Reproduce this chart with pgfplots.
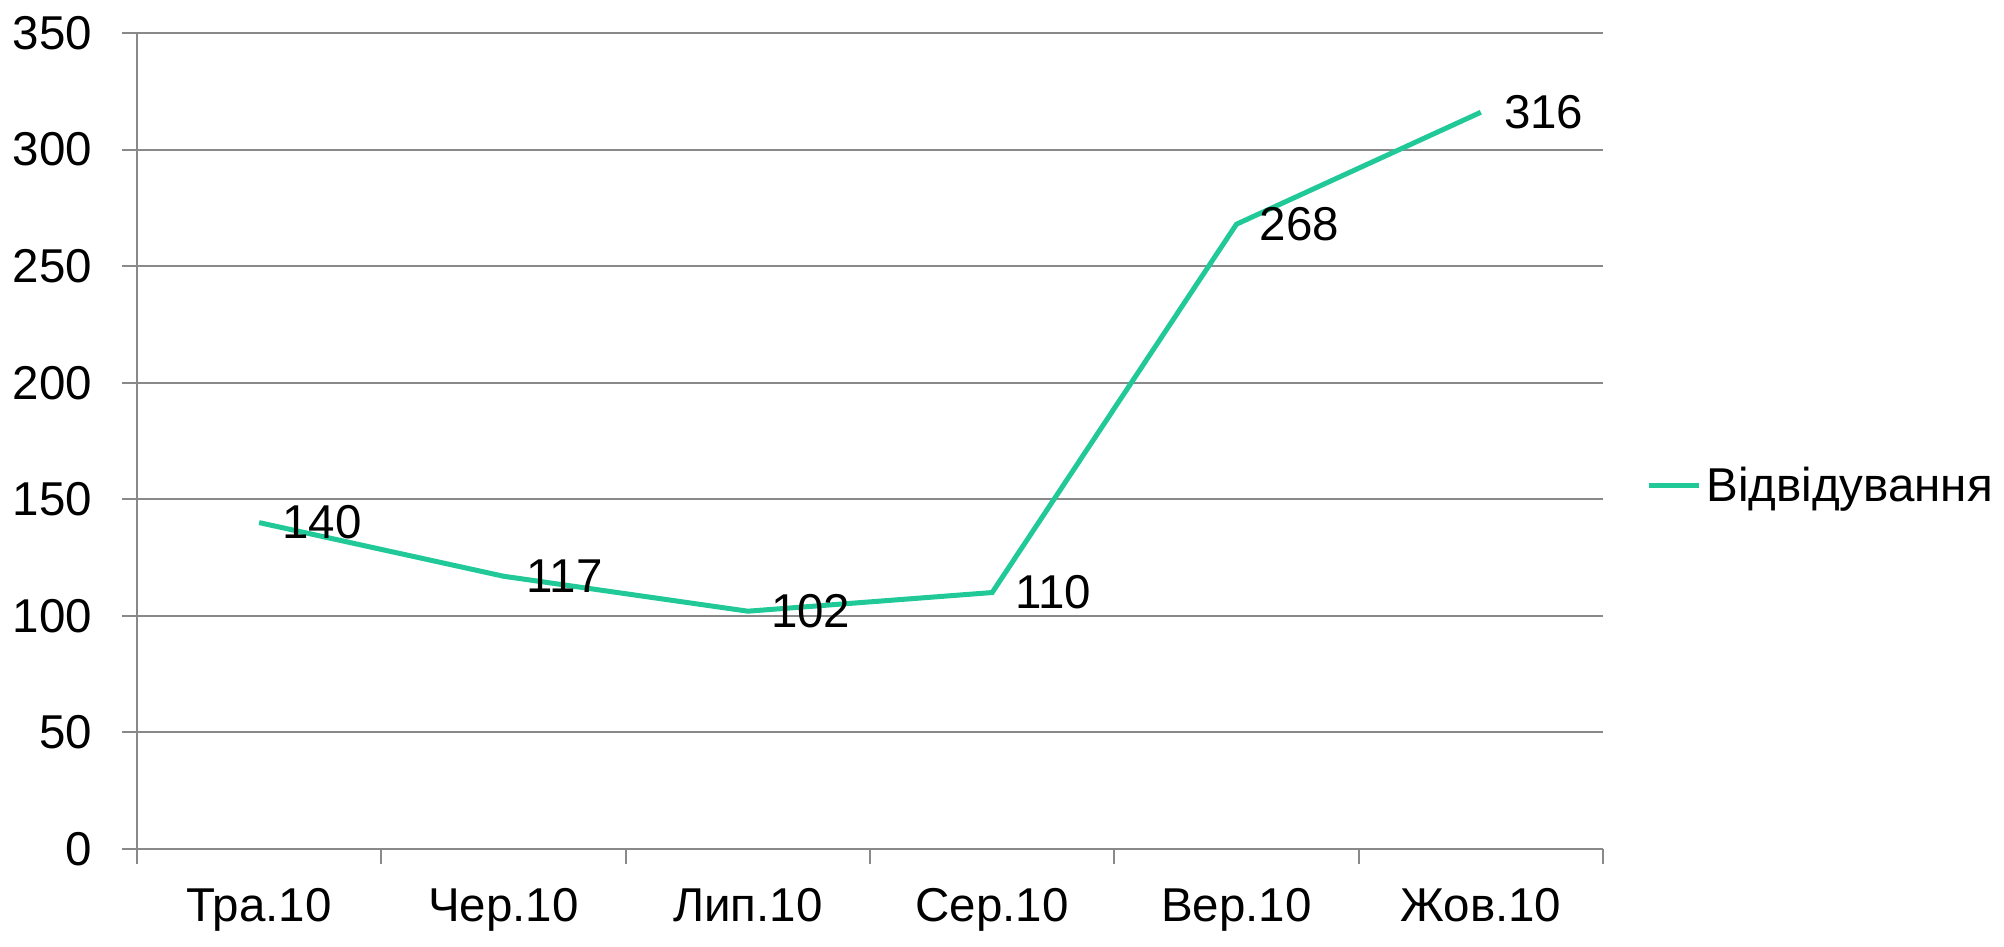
\documentclass[border=0pt]{standalone}
\usepackage{pgfplots}
\pgfplotsset{compat=1.18}
\usepackage{fontspec}
\setmainfont{Liberation Sans}
\definecolor{lineC}{RGB}{32,201,151}
\definecolor{gridC}{RGB}{137,137,137}
\begin{document}
\begin{tikzpicture}
\useasboundingbox (-54.8pt,-38.8pt) rectangle (746.8pt,339.6pt);
\begin{axis}[
  scale only axis,
  width=586.4pt, height=326.4pt,
  at={(0,0)}, anchor=south west,
  xmin=-0.5, xmax=5.5,
  ymin=0, ymax=350,
  ytick={0,50,...,350},
  xtick={-0.5,0.5,1.5,2.5,3.5,4.5,5.5},
  xticklabels={},
  extra x ticks={0,1,2,3,4,5},
  extra x tick labels={Тра.10,Чер.10,Лип.10,Сер.10,Вер.10,Жов.10},
  extra x tick style={major tick length=0pt, xticklabel style={yshift=-12pt}},
  axis lines*=left,
  axis line style={gridC, line width=0.8pt},
  ymajorgrids,
  major grid style={gridC, line width=0.8pt},
  tick align=outside,
  major tick length=6pt,
  tick style={gridC, line width=0.8pt},
  tick label style={font=\fontsize{19}{22}\selectfont, black},
  /pgf/number format/assume math mode=true,
  yticklabel style={xshift=-8.5pt},
  clip=false,
  legend style={draw=none, fill=none, inner sep=0pt, at={(axis description cs:1.0293,0.445)}, anchor=west, font=\fontsize{19}{22}\selectfont, /tikz/every even column/.style={column sep=0pt}},
  legend image code/.code={\draw[#1, line width=2pt] (0pt,0pt) -- (20pt,0pt);},
  nodes near coords,
  every node near coord/.append style={anchor=west, xshift=5pt, font=\fontsize{19}{22}\selectfont, black},
]
\addplot[lineC, line width=2pt, mark=none] coordinates {
  (0,140) (1,117) (2,102) (3,110) (4,268) (5,316)
};
\addlegendentry{Відвідування}
\end{axis}
\end{tikzpicture}
\end{document}
